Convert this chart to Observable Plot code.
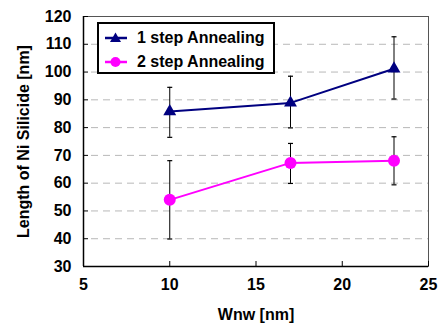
<!DOCTYPE html>
<html>
<head>
<meta charset="utf-8">
<script src="https://cdn.jsdelivr.net/npm/d3@7"></script>
<script src="https://cdn.jsdelivr.net/npm/@observablehq/plot@0.6"></script>
<style>
  html, body { margin: 0; padding: 0; background: white; }
  #wrap { position: relative; width: 445px; height: 323px; font-family: "Liberation Sans", Arial, sans-serif; }
  #legend { position: absolute; left: 97px; top: 22px; width: 174px; height: 48px; border: 2px solid black; background: white; font-weight: bold; font-size: 16px; }
  .row { position: absolute; left: 0; height: 20px; width: 174px; }
  .row span { position: absolute; left: 38px; top: 1px; white-space: nowrap; line-height: 18px; }
</style>
</head>
<body>
<div id="wrap"></div>
<script>
const xValues = [10, 17, 23];
const seriesNames = ["1 step Annealing", "2 step Annealing"];
const oneStep = [85.8, 88.9, 101.2];
const oneStepLow = [76.5, 79.9, 90.3];
const oneStepHigh = [94.5, 98.5, 112.7];
const twoStep = [54.0, 67.3, 68.1];
const twoStepLow = [39.9, 59.9, 59.4];
const twoStepHigh = [68.1, 74.3, 76.7];
const xTicks = [5, 10, 15, 20, 25];
const yTicks = [30, 40, 50, 60, 70, 80, 90, 100, 110, 120];
const gridTicks = [40, 50, 60, 70, 80, 90, 100, 110];
const colors = ["#000080", "#ff00ff"];

const data1 = xValues.map((x, i) => ({x, y: oneStep[i], lo: oneStepLow[i], hi: oneStepHigh[i]}));
const data2 = xValues.map((x, i) => ({x, y: twoStep[i], lo: twoStepLow[i], hi: twoStepHigh[i]}));
const all = data1.concat(data2);

const cap = {draw(context, size) { const w = 2.5; context.moveTo(-w, 0); context.lineTo(w, 0); }};

const chart = Plot.plot({
  width: 445, height: 323,
  marginLeft: 83, marginRight: 17, marginTop: 16, marginBottom: 57,
  x: {type: "linear", domain: [5, 25]},
  y: {type: "linear", domain: [30, 120]},
  style: {fontFamily: "'Liberation Sans', Arial, sans-serif", fontWeight: "bold", fontSize: "16px", background: "white", color: "black"},
  marks: [
    Plot.ruleY(gridTicks, {stroke: "#b8b8b8", strokeDasharray: "7,5", insetLeft: 8}),
    Plot.frame({stroke: "#555"}),
    Plot.axisX({ticks: xTicks, tickSize: 0, tickPadding: 12, fontSize: 16, label: "Wnw [nm]", labelAnchor: "center", labelOffset: 53, labelArrow: "none"}),
    Plot.axisY({ticks: yTicks, tickSize: 0, tickPadding: 12, fontSize: 16, label: "Length of Ni Silicide [nm]", labelAnchor: "center", labelOffset: 66, labelArrow: "none"}),
    Plot.axisX({ticks: xTicks, tickSize: -5, tickFormat: () => "", label: null}),
    Plot.axisY({ticks: yTicks, tickSize: -5, tickFormat: () => "", label: null}),
    Plot.ruleX([5], {stroke: "black", strokeWidth: 1.5}),
    Plot.ruleY([30], {stroke: "black", strokeWidth: 1.5}),
    Plot.ruleX(all, {x: "x", y1: "lo", y2: "hi", stroke: "black", strokeWidth: 1}),
    Plot.dot(all, {x: "x", y: "lo", symbol: cap, stroke: "black", strokeWidth: 1.2}),
    Plot.dot(all, {x: "x", y: "hi", symbol: cap, stroke: "black", strokeWidth: 1.2}),
    Plot.line(data1, {x: "x", y: "y", stroke: colors[0], strokeWidth: 2}),
    Plot.line(data2, {x: "x", y: "y", stroke: colors[1], strokeWidth: 2}),
    Plot.dot(data1, {x: "x", y: "y", symbol: "triangle", r: 4.8, fill: colors[0], stroke: "none"}),
    Plot.dot(data2, {x: "x", y: "y", symbol: "circle", r: 6, fill: colors[1], stroke: "none"})
  ]
});

const wrap = document.getElementById("wrap");
wrap.appendChild(chart);

const legend = document.createElement("div");
legend.id = "legend";
seriesNames.forEach((name, i) => {
  const row = document.createElement("div");
  row.className = "row";
  row.style.top = (4 + i * 23.5) + "px";
  const sym = i === 0
    ? `<path d="M12.5,4.5 L18,14 L7,14 Z" fill="${colors[0]}"/>`
    : `<circle cx="12.5" cy="10" r="5" fill="${colors[1]}"/>`;
  row.innerHTML = `<svg width="30" height="20" style="position:absolute;left:4px;top:0"><line x1="2" x2="24" y1="10" y2="10" stroke="${colors[i]}" stroke-width="2.5"/>${sym}</svg><span>${name}</span>`;
  legend.appendChild(row);
});
wrap.appendChild(legend);
</script>
</body>
</html>
